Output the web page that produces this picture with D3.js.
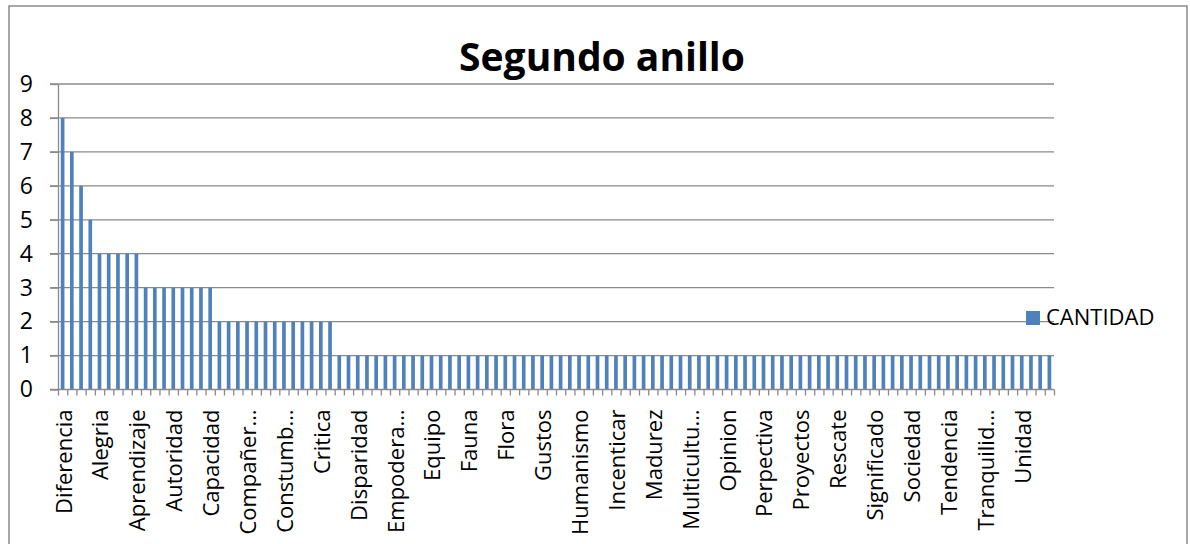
<!DOCTYPE html>
<html>
<head>
<meta charset="utf-8">
<script src="https://cdn.jsdelivr.net/npm/d3@7"></script>
<style>
  body { margin: 0; background: #fff; }
  svg { display: block; font-family: "Open Sans", sans-serif; }
  .tick text { fill: #000; }
</style>
</head>
<body>
<div id="chart"></div>
<script>
// values sorted by count, one per word (108 words)
const values = [
    8, 7, 6, 5,
    4, 4, 4, 4, 4,
    3, 3, 3, 3, 3, 3, 3, 3,
    2, 2, 2, 2, 2, 2, 2, 2, 2, 2, 2, 2, 2,
    1, 1, 1, 1, 1, 1, 1, 1, 1, 1, 1, 1, 1, 1, 1, 1, 1, 1, 1, 1,
    1, 1, 1, 1, 1, 1, 1, 1, 1, 1, 1, 1, 1, 1, 1, 1, 1, 1, 1, 1,
    1, 1, 1, 1, 1, 1, 1, 1, 1, 1, 1, 1, 1, 1, 1, 1, 1, 1, 1, 1,
    1, 1, 1, 1, 1, 1, 1, 1, 1, 1, 1, 1, 1, 1, 1, 1, 1, 1
];
// only every 4th word is printed on the axis
const tickLabels = [
    "Diferencia", "Alegria", "Aprendizaje", "Autoridad", "Capacidad",
    "Compañer…", "Constumb…", "Critica", "Disparidad", "Empodera…",
    "Equipo", "Fauna", "Flora", "Gustos", "Humanismo", "Incenticar",
    "Madurez", "Multicultu…", "Opinion", "Perpectiva", "Proyectos",
    "Rescate", "Significado", "Sociedad", "Tendencia", "Tranquilid…", "Unidad"
];
const yTicks = [0, 1, 2, 3, 4, 5, 6, 7, 8, 9];
const title = "Segundo anillo";
const seriesName = "CANTIDAD";

const W = 1190, H = 544;
const plotLeft = 58, plotRight = 1054, plotTop = 84, plotBottom = 389.5;
const labelStep = 4;

const svg = d3.select("#chart").append("svg")
    .attr("width", W)
    .attr("height", H);

// outer frame
svg.append("rect")
    .attr("x", 9).attr("y", 6)
    .attr("width", 1178).attr("height", 560)
    .attr("fill", "none")
    .attr("stroke", "#8a8a8a")
    .attr("stroke-width", 1.5);

const idx = d3.range(values.length);
let x = d3.scaleBand()
    .domain(idx)
    .range([plotLeft, plotRight])
    .paddingInner(0.6)
    .paddingOuter(0.3);
let xb = d3.scaleLinear()
    .domain([0, values.length])
    .range([plotLeft, plotRight]);
let y = d3.scaleLinear()
    .domain([0, 9])
    .range([plotBottom, plotTop]);

// gridlines
svg.append("g")
    .selectAll("line")
    .data(yTicks.slice(1))
    .join("line")
    .attr("x1", plotLeft - 8).attr("x2", plotRight)
    .attr("y1", d => y(d)).attr("y2", d => y(d))
    .attr("stroke", "#8a8a8a")
    .attr("stroke-width", 1.3);

// bars
svg.append("g")
    .selectAll("rect")
    .data(values)
    .join("rect")
    .attr("x", (d, i) => x(i))
    .attr("width", x.bandwidth())
    .attr("y", d => y(d))
    .attr("height", d => y(0) - y(d))
    .attr("fill", "#4f81bd");

// y axis
let yAxis = svg.append("g")
    .attr("transform", "translate(" + plotLeft + ",0)")
    .call(d3.axisLeft(y)
        .tickValues(yTicks)
        .tickSizeInner(8)
        .tickSizeOuter(0)
        .tickPadding(17)
    );
yAxis.selectAll("line, path").attr("stroke", "#8a8a8a").attr("stroke-width", 1.3);
yAxis.selectAll("text").attr("font-size", 23).attr("font-family", "Open Sans");

// x axis: tick marks on category boundaries
let xAxis = svg.append("g")
    .attr("transform", "translate(0," + plotBottom + ")")
    .call(d3.axisBottom(xb)
        .tickValues(d3.range(values.length + 1))
        .tickFormat("")
        .tickSizeInner(6)
        .tickSizeOuter(0)
    );
xAxis.selectAll("line, path").attr("stroke", "#8a8a8a").attr("stroke-width", 1.3);
xAxis.select(".domain").attr("d", "M" + (plotLeft - 8) + ",0H" + plotRight);

// x labels, every 4th category
svg.append("g")
    .selectAll("text")
    .data(tickLabels)
    .join("text")
    .attr("transform", (d, i) => "translate(" + (x(i * labelStep) + x.bandwidth() / 2 + 1) + "," + (plotBottom + 20) + ") rotate(-90)")
    .attr("text-anchor", "end")
    .attr("dy", "0.36em")
    .attr("font-size", 22)
    .text(d => d);

// title
svg.append("text")
    .attr("x", 602).attr("y", 71)
    .attr("text-anchor", "middle")
    .attr("font-size", 39)
    .attr("font-weight", "bold")
    .text(title);

// legend
svg.append("rect")
    .attr("x", 1026).attr("y", 311)
    .attr("width", 14).attr("height", 14)
    .attr("fill", "#4f81bd");
svg.append("text")
    .attr("x", 1046).attr("y", 325)
    .attr("font-size", 22)
    .text(seriesName);
</script>
</body>
</html>
